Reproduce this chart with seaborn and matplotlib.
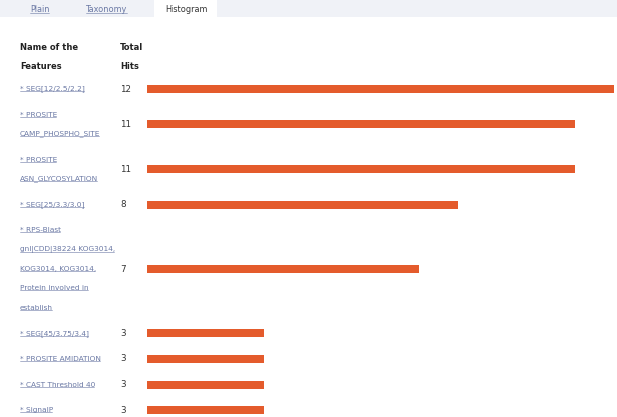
import matplotlib
matplotlib.use("Agg")
import matplotlib.pyplot as plt
import seaborn as sns
import pandas as pd

# ---- data ----
features = [
    "* SEG[12/2.5/2.2]",
    "* PROSITE\nCAMP_PHOSPHO_SITE",
    "* PROSITE\nASN_GLYCOSYLATION",
    "* SEG[25/3.3/3.0]",
    "* RPS-Blast\ngnl|CDD|38224 KOG3014,\nKOG3014, KOG3014,\nProtein involved in\nestablish",
    "* SEG[45/3.75/3.4]",
    "* PROSITE AMIDATION",
    "* CAST Threshold 40",
    "* SignalP",
]
hits = [12, 11, 11, 8, 7, 3, 3, 3, 3]
tabs = ["Plain", "Taxonomy", "Histogram"]
header_name = ["Name of the", "Features"]
header_hits = ["Total", "Hits"]

# ---- style ----
sns.set_theme(style="white")
plt.rcParams["font.family"] = ["DejaVu Sans"]
BAR = "#e45b2c"
LINK = "#6a78a4"
DARK = "#222222"

W, H = 617, 417
fig = plt.figure(figsize=(W / 100, H / 100), dpi=100)
fig.patch.set_facecolor("white")

bg = fig.add_axes([0, 0, 1, 1])
bg.set_xlim(0, W)
bg.set_ylim(H, 0)
bg.axis("off")

# row layout from number of text lines
LINE, GAP, FIRST = 19.3, 25.7, 89.0
centers, line_ys = [], []
y = FIRST
for f in features:
    n = len(f.split("\n"))
    ys = [y + i * LINE for i in range(n)]
    line_ys.append(ys)
    centers.append((ys[0] + ys[-1]) / 2)
    y = ys[-1] + GAP

# tab bar
bg.add_patch(plt.Rectangle((0, 0), W, 17, color="#f0f2f7", zorder=0, lw=0))
bg.add_patch(plt.Rectangle((154, 0), 63, 17, color="white", zorder=1, lw=0))
link_texts = []
tab_x = [40, 107, 186]
for i, (t, tx) in enumerate(zip(tabs, tab_x)):
    active = i == 2
    txt = bg.text(tx, 9.5, t, ha="center", va="center", fontsize=5.9,
                  color="#333333" if active else LINK, zorder=2)
    if not active:
        link_texts.append(txt)

# headers
for i, (a, b) in enumerate(zip(header_name, header_hits)):
    yy = 47 + i * 19
    bg.text(20, yy, a, ha="left", va="center", fontsize=6.0,
            fontweight="bold", color=DARK)
    bg.text(120, yy, b, ha="left", va="center", fontsize=6.0,
            fontweight="bold", color=DARK)

# feature labels and counts
for f, ys, c, h in zip(features, line_ys, centers, hits):
    for line, ly in zip(f.split("\n"), ys):
        txt = bg.text(20, ly, line, ha="left", va="center", fontsize=5.3,
                      color=LINK)
        link_texts.append(txt)
    bg.text(120, c, str(h), ha="left", va="center", fontsize=6.3,
            color="#333333")

# bars
ax = fig.add_axes([147 / W, 0, (614 - 147) / W, 1])
df = pd.DataFrame({"pos": centers, "hits": hits})
sns.barplot(data=df, x="hits", y="pos", orient="h", native_scale=True,
            color=BAR, saturation=1, width=8 / GAP, errorbar=None,
            linewidth=0, ax=ax)
ax.set_xlim(0, 12)
ax.set_ylim(H, 0)
ax.axis("off")
ax.patch.set_alpha(0)

# underline the link texts
fig.canvas.draw()
r = fig.canvas.get_renderer()
inv = bg.transData.inverted()
for t in link_texts:
    bb = t.get_window_extent(r)
    (x0, y0), (x1, _) = inv.transform([(bb.x0, bb.y0), (bb.x1, bb.y1)])
    bg.plot([x0, x1 - 1], [y0 - 1, y0 - 1], color=t.get_color(), lw=0.5,
            alpha=0.8)

fig.savefig("out.png", dpi=100, facecolor="white")
